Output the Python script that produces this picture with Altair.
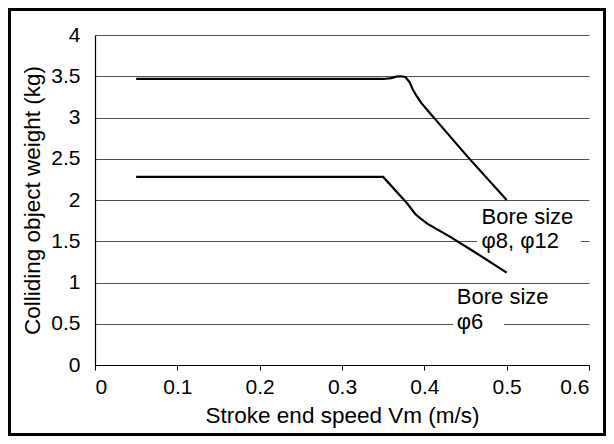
import altair as alt
import pandas as pd

# ---- data ----
x_upper = [0.05, 0.35, 0.36, 0.366, 0.372, 0.377, 0.382, 0.386, 0.390, 0.396, 0.408, 0.427, 0.453, 0.50]
y_upper = [3.467, 3.467, 3.478, 3.495, 3.50, 3.49, 3.43, 3.34, 3.27, 3.18, 3.04, 2.82, 2.52, 2.0]

x_lower = [0.05, 0.35, 0.379, 0.389, 0.396, 0.404, 0.432, 0.461, 0.50]
y_lower = [2.28, 2.28, 1.96, 1.83, 1.77, 1.71, 1.55, 1.37, 1.12]

x_ticks = [0, 0.1, 0.2, 0.3, 0.4, 0.5, 0.6]
y_ticks = [0, 0.5, 1, 1.5, 2, 2.5, 3, 3.5, 4]

label_text = ["Bore size", "φ8, φ12", "Bore size", "φ6"]
label_x = [0.4695, 0.4695, 0.4395, 0.4395]
label_y = [1.80, 1.50, 0.83, 0.52]

mask_x0 = [0.464, 0.435]
mask_x1 = [0.590, 0.497]
mask_y0 = [1.42, 0.42]
mask_y1 = [1.58, 0.58]

FONT = "Liberation Sans"

curves = pd.concat([
    pd.DataFrame({"x": x_upper, "y": y_upper, "series": "φ8, φ12"}),
    pd.DataFrame({"x": x_lower, "y": y_lower, "series": "φ6"}),
])
labels = pd.DataFrame({"x": label_x, "y": label_y, "text": label_text})
masks = pd.DataFrame({"x0": mask_x0, "x1": mask_x1, "y0": mask_y0, "y1": mask_y1})

xscale = alt.Scale(domain=[0, 0.6], nice=False, zero=False)
yscale = alt.Scale(domain=[0, 4], nice=False, zero=False)

x_axis = alt.Axis(
    values=x_ticks, format="~g", title="Stroke end speed Vm (m/s)",
    grid=False, domainColor="black", domainWidth=1.2, tickColor="black",
    tickSize=5, labelFontSize=21, labelPadding=6, labelColor="black",
    titleFontSize=22.5, titleFontWeight="normal", titleColor="black",
    titleY=57, titleBaseline="alphabetic",
)
y_axis = alt.Axis(
    values=y_ticks, format="~g", title="Colliding object weight (kg)",
    grid=True, gridColor="#505050", gridWidth=1, ticks=False,
    domainColor="black", domainWidth=1.2, labelFontSize=21, labelPadding=15,
    labelColor="black", titleFontSize=22.5, titleFontWeight="normal",
    titleColor="black", titleX=-56, titleY=165, titleBaseline="alphabetic",
)

mask_layer = alt.Chart(masks).mark_rect(color="white").encode(
    x=alt.X("x0:Q", scale=xscale, axis=x_axis),
    x2="x1:Q",
    y=alt.Y("y0:Q", scale=yscale, axis=y_axis),
    y2="y1:Q",
)

line_layer = alt.Chart(curves).mark_line(
    color="black", strokeWidth=2.2
).encode(
    x=alt.X("x:Q", scale=xscale, axis=x_axis),
    y=alt.Y("y:Q", scale=yscale, axis=y_axis),
    detail="series:N",
)

text_layer = alt.Chart(labels).mark_text(
    align="left", baseline="middle", font=FONT, fontSize=22, color="black"
).encode(
    x=alt.X("x:Q", scale=xscale, axis=x_axis),
    y=alt.Y("y:Q", scale=yscale, axis=y_axis),
    text="text:N",
)

frame_layer = alt.Chart(pd.DataFrame({"a": [0]})).mark_rect(
    fillOpacity=0, stroke="black", strokeWidth=3
).encode(
    x=alt.value(-85.5), x2=alt.value(509.5),
    y=alt.value(-25.5), y2=alt.value(399.5),
)

chart = alt.layer(mask_layer, line_layer, text_layer, frame_layer).properties(
    width=494, height=330,
    autosize=alt.AutoSizeParams(type="none"),
    padding={"left": 87, "top": 27, "right": 17, "bottom": 71},
    background="white",
).configure_axis(
    labelFont=FONT, titleFont=FONT
).configure_view(stroke=None)

chart.save("out.html", embed_options={"renderer": "svg", "actions": False})
